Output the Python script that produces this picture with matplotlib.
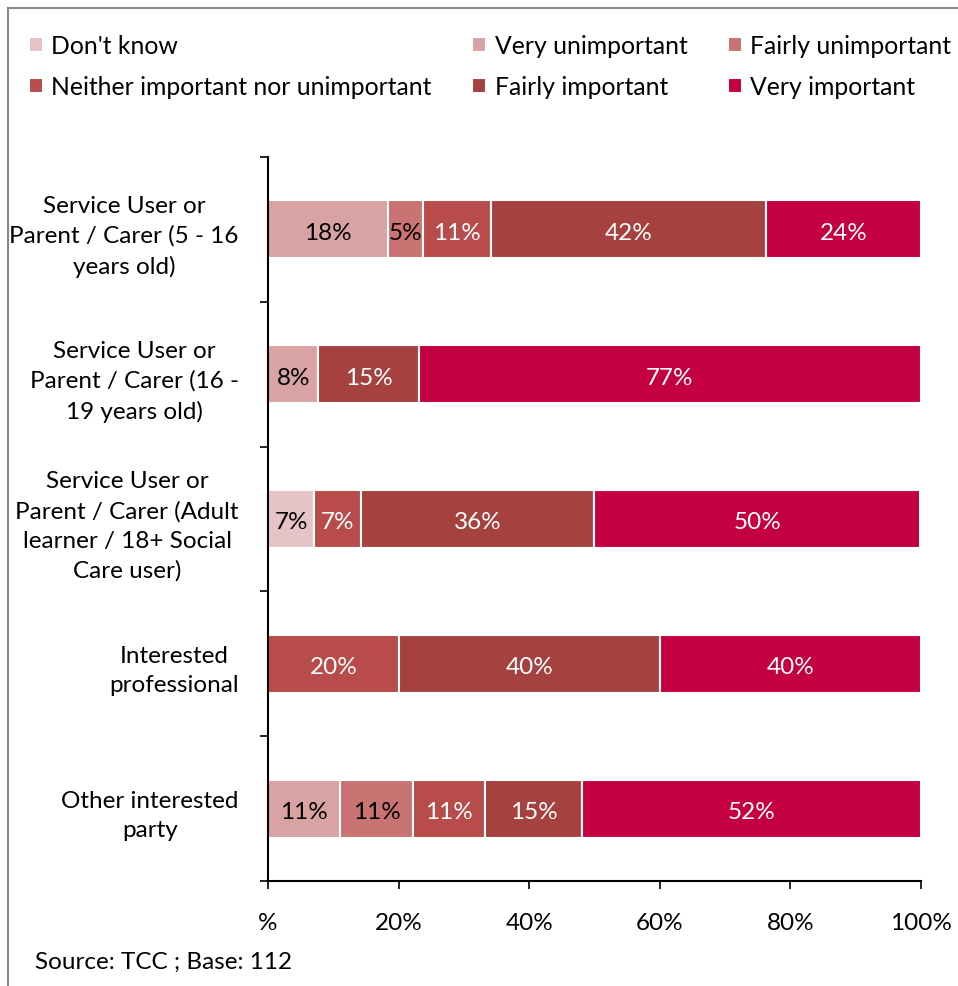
import matplotlib
matplotlib.use('Agg')
import matplotlib.pyplot as plt
from matplotlib.patches import Rectangle
import numpy as np

plt.rcParams['font.family'] = ['Lato', 'DejaVu Sans']

# Categorias (de cima para baixo)
categorias = [
    'Service User or\nParent / Carer (5 - 16\nyears old)',
    'Service User or\nParent / Carer (16 -\n19 years old)',
    'Service User or\nParent / Carer (Adult\nlearner / 18+ Social\nCare user)',
    'Interested\nprofessional',
    'Other interested\nparty',
]

# Percentagens por resposta
dont_know = [0, 0, 7.1, 0, 0]
very_unimportant = [18.4, 7.7, 0, 0, 11.1]
fairly_unimportant = [5.3, 0, 0, 0, 11.1]
neither = [10.5, 0, 7.1, 20, 11.1]
fairly_important = [42.1, 15.4, 35.7, 40, 14.8]
very_important = [23.7, 76.9, 50.0, 40, 51.9]

series = [
    ("Don't know", dont_know, '#E6C3C6', 'black'),
    ('Very unimportant', very_unimportant, '#D9A3A3', 'black'),
    ('Fairly unimportant', fairly_unimportant, '#C97472', 'black'),
    ('Neither important nor unimportant', neither, '#B84C4A', 'white'),
    ('Fairly important', fairly_important, '#A54240', 'white'),
    ('Very important', very_important, '#C50040', 'white'),
]

x_ticks = [0, 20, 40, 60, 80, 100]
x_labels = ['%', '20%', '40%', '60%', '80%', '100%']

fs = 17.5

fig = plt.figure(figsize=(9.58, 9.87), dpi=100)
ax = fig.add_axes([268 / 958, 1 - 882 / 987, 653 / 958, (882 - 158) / 987])

y = np.arange(len(categorias))
left = np.zeros(len(categorias))
handles = []
for nome, valores, cor, cor_txt in series:
    valores = np.array(valores, dtype=float)
    barras = ax.barh(y, valores, left=left, height=0.4, color=cor,
                     edgecolor='white', linewidth=1.5, label=nome)
    handles.append(barras)
    for i, v in enumerate(valores):
        if v > 0:
            ax.text(left[i] + v / 2, y[i] + 0.02, f'{int(v + 0.5)}%', ha='center', va='center',
                    fontsize=fs, color=cor_txt)
    left += valores

ax.set_xlim(0, 100)
ax.set_ylim(len(categorias) - 0.5, -0.5)

ax.set_xticks(x_ticks)
ax.set_xticklabels(x_labels, fontsize=fs)
ax.tick_params(axis='x', length=6, width=1.2, pad=16, direction='out')

ax.set_yticks(y)
ax.set_yticklabels(categorias, fontsize=fs)
for t in ax.get_yticklabels():
    t.set_multialignment('center')
    t.set_linespacing(1.5)
ax.tick_params(axis='y', which='major', length=0, pad=21)
ax.set_yticks(np.arange(-0.5, len(categorias)), minor=True)
ax.tick_params(axis='y', which='minor', length=6, width=1.2, direction='out')

for lado in ['top', 'right']:
    ax.spines[lado].set_visible(False)
for lado in ['left', 'bottom']:
    ax.spines[lado].set_linewidth(1.5)

# Legenda em 2 linhas x 3 colunas (ordem por linha)
ordem = [0, 3, 1, 4, 2, 5]
fig.legend([handles[i] for i in ordem], [series[i][0] for i in ordem],
           ncol=3, loc='upper left', bbox_to_anchor=(29 / 958, 1 - 35 / 987),
           frameon=False, fontsize=17.8, borderpad=0, borderaxespad=0,
           handlelength=0.55, handleheight=0.55, handletextpad=0.35,
           columnspacing=1.65, labelspacing=0.72)

fig.text(35 / 958, 1 - 962 / 987, 'Source: TCC ; Base: 112', fontsize=fs, va='center')

# Moldura cinzenta
fig.patches.append(Rectangle((8 / 958, -0.05), 1.2, 1 - 9 / 987 + 0.05,
                             transform=fig.transFigure, fill=False,
                             edgecolor='#888888', linewidth=1.5))

fig.savefig('out.png', dpi=100)
